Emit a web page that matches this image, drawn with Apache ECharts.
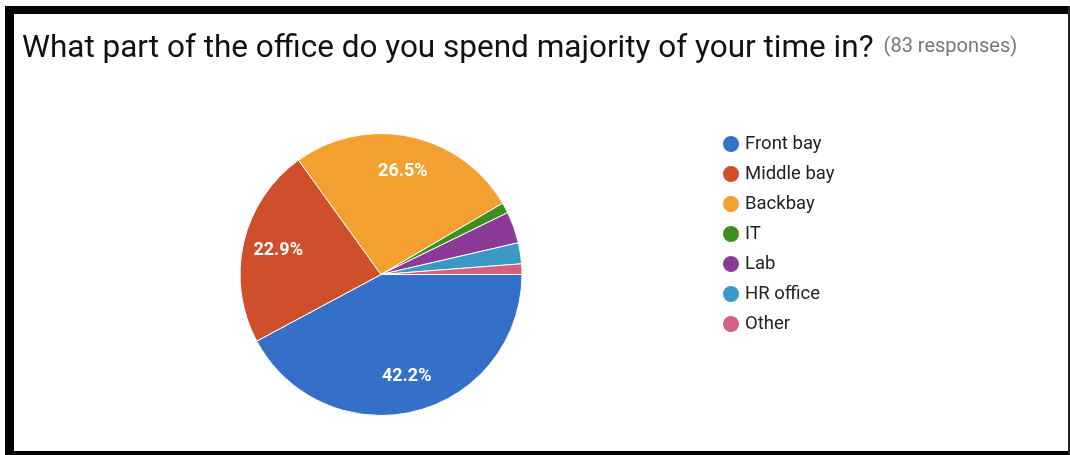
<!DOCTYPE html>
<html>
<head>
<meta charset="utf-8">
<script src="https://cdn.jsdelivr.net/npm/echarts@6/dist/echarts.min.js"></script>
<style>
  html, body { margin: 0; padding: 0; background: #ffffff; }
  #chart { width: 1070px; height: 455px; }
</style>
</head>
<body>
<div id="chart"></div>
<script>
// Survey answers: where respondents spend most of their office time
const categories = ['Front bay', 'Middle bay', 'Backbay', 'IT', 'Lab', 'HR office', 'Other'];
const responses = [35, 19, 22, 1, 3, 2, 1];
const sliceColors = ['#3470c8', '#cf4f2c', '#f4a031', '#3e8e22', '#8c3a98', '#3a99c5', '#d45f80'];
const questionText = 'What part of the office do you spend majority of your time in?';
const responseCount = '(83 responses)';

const total = responses.reduce((a, b) => a + b, 0);
const pieData = categories.map((name, i) => ({
  name: name,
  value: responses[i],
  itemStyle: { color: sliceColors[i] }
}));
// Percentage labels are only shown on slices wide enough to hold them
const labelData = categories.map((name, i) => ({
  name: name,
  value: responses[i],
  label: { show: responses[i] / total > 0.1 }
}));

const chart = echarts.init(document.getElementById('chart'), null, { renderer: 'canvas' });

chart.setOption({
  animation: false,
  backgroundColor: '#ffffff',
  title: {
    left: 17,
    top: 28,
    text: '{q|' + questionText + '}  {n|' + responseCount + '}',
    textStyle: {
      fontWeight: 'normal',
      rich: {
        q: { fontFamily: 'Roboto', fontSize: 31.5, fontWeight: 'normal', color: '#111111' },
        n: { fontFamily: 'Roboto', fontSize: 20, fontWeight: 'normal', color: '#777777', padding: [0, 0, 5, 0] }
      }
    }
  },
  legend: {
    orient: 'vertical',
    left: 716,
    top: 129,
    icon: 'circle',
    itemWidth: 18,
    itemHeight: 18,
    itemGap: 10,
    data: categories,
    textStyle: { fontFamily: 'Roboto', fontSize: 18.5, color: '#222222', lineHeight: 18, padding: [0, 0, 0, 0] }
  },
  series: [
    {
      type: 'pie',
      center: [381, 274.5],
      radius: [0, 141],
      startAngle: 0,
      clockwise: true,
      silent: true,
      label: { show: false },
      labelLine: { show: false },
      itemStyle: { borderColor: '#ffffff', borderWidth: 1 },
      data: pieData
    },
    {
      // transparent ring that carries the percentage labels further out
      type: 'pie',
      center: [381, 274.5],
      radius: [64, 141],
      startAngle: 0,
      clockwise: true,
      silent: true,
      percentPrecision: 1,
      itemStyle: { color: 'rgba(0,0,0,0)', borderWidth: 0 },
      label: {
        position: 'inside',
        formatter: '{d}%',
        fontFamily: 'Roboto',
        fontSize: 18,
        fontWeight: 'bold',
        color: '#ffffff'
      },
      labelLine: { show: false },
      data: labelData
    }
  ],
  graphic: [
    { type: 'rect', shape: { x: 5, y: 6, width: 1065, height: 8 }, style: { fill: '#000000' }, silent: true },
    { type: 'rect', shape: { x: 5, y: 6, width: 9, height: 449 }, style: { fill: '#000000' }, silent: true },
    { type: 'rect', shape: { x: 5, y: 451, width: 1065, height: 4 }, style: { fill: '#000000' }, silent: true },
    { type: 'rect', shape: { x: 1068, y: 6, width: 2, height: 449 }, style: { fill: '#222222' }, silent: true }
  ]
});
</script>
</body>
</html>
